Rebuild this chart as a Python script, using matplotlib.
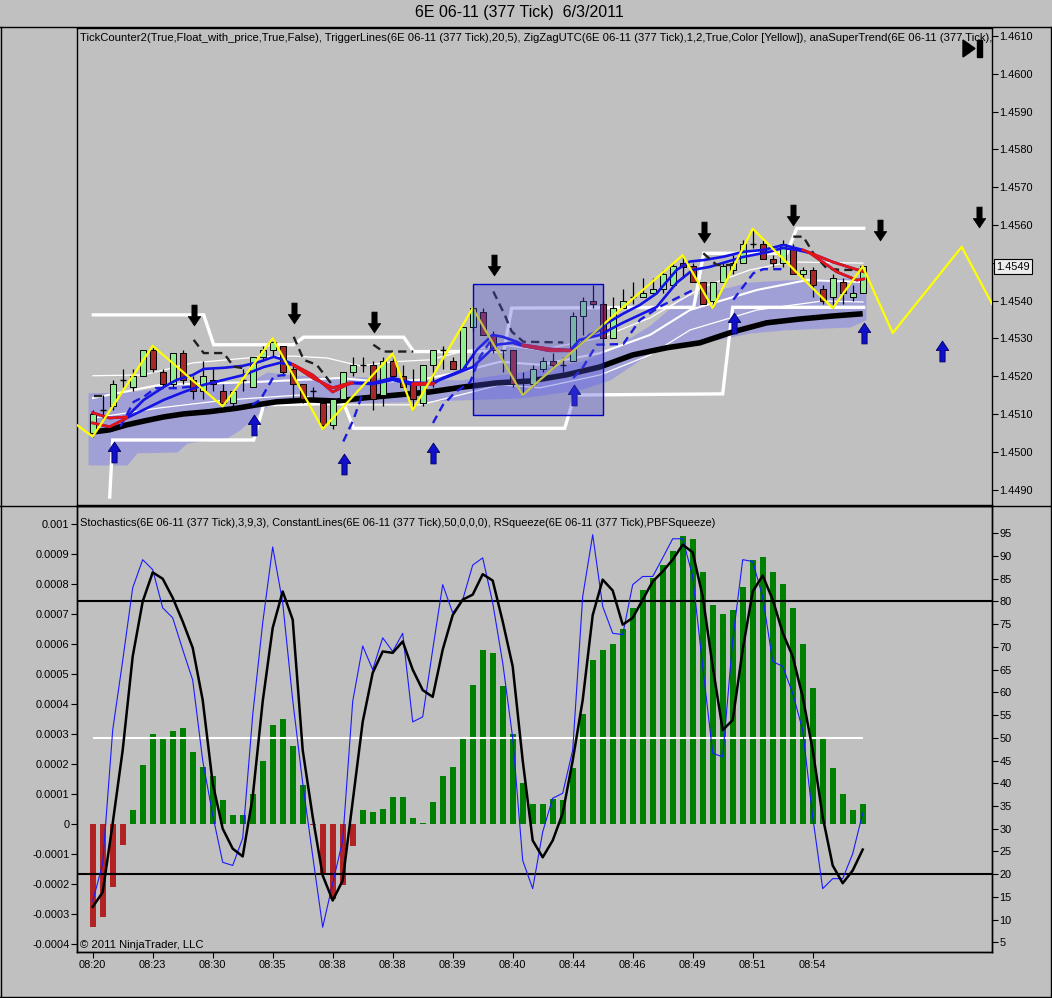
import numpy as np
import matplotlib
matplotlib.use('Agg')
import matplotlib.pyplot as plt
import matplotlib.transforms as mtransforms
from matplotlib.path import Path
from matplotlib.lines import Line2D
from matplotlib.patches import Rectangle, Polygon

plt.rcParams['font.family'] = ['Liberation Sans', 'DejaVu Sans']

BG = '#c0c0c0'

# ---- 377 tick bars, 6E 06-11 ----
opens = [1.4505, 1.4511, 1.4512, 1.4519, 1.4517, 1.4520, 1.4527, 1.4521, 1.4518, 1.4526,
         1.4519, 1.4516, 1.4519, 1.4516, 1.4513, 1.4519, 1.4517, 1.4525, 1.4527, 1.4528,
         1.4522, 1.4518, 1.4516, 1.4513, 1.4507, 1.4514, 1.4521, 1.4523, 1.4523, 1.4515,
         1.4524, 1.4520, 1.4518, 1.4513, 1.4523, 1.4527, 1.4524, 1.4522, 1.4533, 1.4537,
         1.4531, 1.4527, 1.4527, 1.4519, 1.4518, 1.4522, 1.4524, 1.4523, 1.4524, 1.4536,
         1.4540, 1.4539, 1.4530, 1.4538, 1.4541, 1.4541, 1.4542, 1.4543, 1.4544, 1.4550,
         1.4549, 1.4545, 1.4540, 1.4545, 1.4548, 1.4550, 1.4555, 1.4555, 1.4551, 1.4550,
         1.4554, 1.4547, 1.4548, 1.4543, 1.4541, 1.4545, 1.4541, 1.4542]
highs = [1.4511, 1.4515, 1.4519, 1.4522, 1.4522, 1.4527, 1.4528, 1.4522, 1.4526, 1.4527,
         1.4520, 1.4524, 1.4522, 1.4518, 1.4516, 1.4522, 1.4525, 1.4528, 1.4530, 1.4528,
         1.4523, 1.4518, 1.4517, 1.4514, 1.4514, 1.4521, 1.4525, 1.4525, 1.4524, 1.4525,
         1.4526, 1.4523, 1.4522, 1.4523, 1.4527, 1.4528, 1.4525, 1.4533, 1.4538, 1.4538,
         1.4532, 1.4527, 1.4527, 1.4521, 1.4523, 1.4525, 1.4526, 1.4525, 1.4537, 1.4541,
         1.4544, 1.4540, 1.4541, 1.4543, 1.4545, 1.4546, 1.4546, 1.4548, 1.4550, 1.4552,
         1.4550, 1.4545, 1.4545, 1.4550, 1.4552, 1.4556, 1.4559, 1.4556, 1.4552, 1.4556,
         1.4555, 1.4549, 1.4549, 1.4544, 1.4547, 1.4546, 1.4544, 1.4549]
lows = [1.4504, 1.4508, 1.4511, 1.4517, 1.4516, 1.4520, 1.4521, 1.4517, 1.4517, 1.4518,
        1.4514, 1.4514, 1.4516, 1.4512, 1.4512, 1.4516, 1.4517, 1.4524, 1.4525, 1.4520,
        1.4514, 1.4513, 1.4514, 1.4506, 1.4506, 1.4514, 1.4520, 1.4521, 1.4511, 1.4512,
        1.4519, 1.4517, 1.4511, 1.4512, 1.4517, 1.4522, 1.4522, 1.4522, 1.4532, 1.4531,
        1.4526, 1.4521, 1.4517, 1.4515, 1.4517, 1.4521, 1.4522, 1.4521, 1.4524, 1.4531,
        1.4538, 1.4530, 1.4530, 1.4538, 1.4539, 1.4541, 1.4542, 1.4542, 1.4544, 1.4546,
        1.4545, 1.4539, 1.4538, 1.4545, 1.4547, 1.4550, 1.4554, 1.4551, 1.4549, 1.4549,
        1.4547, 1.4546, 1.4541, 1.4539, 1.4538, 1.4539, 1.4540, 1.4542]
closes = [1.4510, 1.4511, 1.4518, 1.4519, 1.4520, 1.4527, 1.4522, 1.4518, 1.4526, 1.4519,
          1.4516, 1.4520, 1.4518, 1.4513, 1.4516, 1.4519, 1.4525, 1.4527, 1.4529, 1.4521,
          1.4518, 1.4514, 1.4516, 1.4507, 1.4514, 1.4521, 1.4523, 1.4523, 1.4514, 1.4524,
          1.4520, 1.4517, 1.4514, 1.4523, 1.4527, 1.4527, 1.4522, 1.4533, 1.4538, 1.4531,
          1.4527, 1.4527, 1.4518, 1.4519, 1.4522, 1.4524, 1.4523, 1.4523, 1.4536, 1.4540,
          1.4539, 1.4530, 1.4538, 1.4540, 1.4541, 1.4542, 1.4543, 1.4547, 1.4549, 1.4549,
          1.4545, 1.4539, 1.4545, 1.4549, 1.4550, 1.4555, 1.4555, 1.4551, 1.4550, 1.4555,
          1.4547, 1.4548, 1.4544, 1.4540, 1.4546, 1.4542, 1.4542, 1.4549]
last_price = 1.4549

# ---- moving averages (fast / slow), read at points ----
fast_x = [0, 1.7, 3.4, 5.1, 7.1, 8.4, 10.0, 11.1, 13.1, 15.0, 16.7, 18.1, 19.1, 20.1, 22.0,
          24.0, 25.4, 26.0, 28.0, 30.0, 32.0, 34.0, 35.0, 37.0, 38.4, 40.0, 41.0, 42.4, 43.0,
          45.7, 47.7, 48.7, 49.7, 50.7, 51.4, 53.1, 54.7, 56.4, 58.4, 59.7, 61.1, 63.1, 65.1,
          67.1, 69.1, 70.4, 71.0, 74.0, 77.1]
fast_y = [1.45103, 1.45089, 1.45092, 1.45137, 1.45171, 1.45190, 1.45203, 1.45219, 1.45222,
          1.45227, 1.45238, 1.45251, 1.45243, 1.45230, 1.45203, 1.45158, 1.45177, 1.45182,
          1.45182, 1.45195, 1.45182, 1.45182, 1.45195, 1.45216, 1.45269, 1.45309, 1.45304,
          1.45291, 1.45283, 1.45272, 1.45269, 1.45283, 1.45309, 1.45322, 1.45340, 1.45366,
          1.45388, 1.45419, 1.45481, 1.45503, 1.45507, 1.45516, 1.45529, 1.45534, 1.45547,
          1.45538, 1.45534, 1.45502, 1.45476]
slow_x = [0, 1.7, 3.4, 5.1, 7.1, 9.1, 11.1, 13.1, 15.1, 17.1, 18.7, 20.0, 22.0, 24.0, 25.7,
          28.0, 30.0, 32.0, 34.0, 34.7, 38.0, 40.4, 42.0, 43.0, 45.7, 47.7, 48.7, 50.7, 53.0,
          56.4, 58.4, 60.0, 61.7, 65.0, 67.7, 69.0, 70.4, 71.7, 74.4, 76.4, 77.1]
slow_y = [1.45076, 1.45066, 1.45089, 1.45111, 1.45137, 1.45158, 1.45177, 1.45190, 1.45203,
          1.45224, 1.45235, 1.45230, 1.45195, 1.45169, 1.45182, 1.45179, 1.45190, 1.45177,
          1.45179, 1.45190, 1.45224, 1.45283, 1.45288, 1.45280, 1.45267, 1.45267, 1.45296,
          1.45309, 1.45341, 1.45383, 1.45447, 1.45481, 1.45489, 1.45515, 1.45529, 1.45539,
          1.45534, 1.45526, 1.45476, 1.45454, 1.45457]
falling_ranges = [(0, 3.5), (19.9, 26.1), (31.9, 34.1), (42.9, 47.8), (70.9, 77.2)]

long_x = [0, 1.7, 3.4, 5.1, 7.1, 9.1, 11.7, 14.4, 16.4, 18.4, 21.7, 24.4, 27.0, 30.4, 33.7,
          37.0, 40.4, 43.7, 47.3, 50.7, 54.0, 57.4, 60.7, 64.0, 67.4, 70.7, 74.0, 77.0]
long_y = [1.45052, 1.45058, 1.45071, 1.45081, 1.45092, 1.45100, 1.45106, 1.45115, 1.45124,
          1.45132, 1.45137, 1.45134, 1.45142, 1.45150, 1.45158, 1.45171, 1.45182, 1.45187,
          1.45203, 1.45224, 1.45256, 1.45275, 1.45288, 1.45317, 1.45341, 1.45351, 1.45359,
          1.45365]

# ---- thin / medium white bands ----
band_up_x = [0.03, 5.03, 10.03, 16.73, 20.03, 23.43, 26.73, 30.03, 33.73, 36.73, 40.73, 44.73,
             50.73, 55.73, 61.03, 65.73, 69.73, 77.03]
band_up_y = [1.45201, 1.45203, 1.45235, 1.45251, 1.45253, 1.45248, 1.45227, 1.45238, 1.45243,
             1.45264, 1.45283, 1.45269, 1.45301, 1.45354, 1.45436, 1.45481, 1.45502, 1.45499]
band_mid_x = [0.03, 6.73, 13.43, 16.73, 20.73, 24.73, 28.73, 32.73, 36.73, 40.73, 44.73, 50.73,
              55.73, 59.73, 66.43, 71.43, 77.03]
band_mid_y = [1.45142, 1.45177, 1.45182, 1.45185, 1.45190, 1.45195, 1.45185, 1.45190, 1.45211,
              1.45238, 1.45230, 1.45261, 1.45309, 1.45375, 1.45428, 1.45454, 1.45449]
band_lo_x = [0.03, 6.73, 13.43, 20.73, 24.73, 32.73, 36.73, 40.73, 44.73, 50.73, 55.73, 59.73,
             66.43, 73.03, 77.03]
band_lo_y = [1.45089, 1.45116, 1.45137, 1.45150, 1.45124, 1.45124, 1.45150, 1.45177, 1.45169,
             1.45203, 1.45256, 1.45322, 1.45375, 1.45399, 1.45396]

# ---- shaded cloud ----
cloud_x = [-0.47, 3.43, 4.43, 8.43, 9.43, 13.43, 14.73, 16.03, 17.43, 20.03, 24.03, 26.73,
           30.73, 36.73, 42.73, 48.73, 51.73, 55.73, 59.03, 62.43, 65.73, 69.03, 75.73, 77.33]
cloud_top = [1.45156, 1.45158, 1.45161, 1.45177, 1.45182, 1.45185, 1.45187, 1.45190, 1.45211,
             1.45203, 1.45198, 1.45198, 1.45195, 1.45190, 1.45211, 1.45238, 1.45269, 1.45335,
             1.45410, 1.45428, 1.45449, 1.45454, 1.45460, 1.45460]
cloud_bot = [1.44965, 1.44965, 1.44997, 1.44999, 1.45023, 1.45037, 1.45058, 1.45089, 1.45119,
             1.45132, 1.45132, 1.45129, 1.45132, 1.45137, 1.45142, 1.45164, 1.45190, 1.45261,
             1.45283, 1.45296, 1.45314, 1.45322, 1.45330, 1.45349]

# ---- TriggerLines (thick white steps) ----
trig_hi_x = [0.06, 11.1, 12.1, 20.1, 21.1, 31.1, 32.1, 41.1, 41.9, 60.1, 61.1, 69.4, 70.4, 77.1]
trig_hi_y = [1.45362, 1.45362, 1.45283, 1.45283, 1.45303, 1.45303, 1.45265, 1.45265, 1.45380,
             1.45382, 1.45525, 1.45525, 1.45591, 1.45591]
trig_lo_x = [1.7, 2.0, 16.1, 17.1, 25.1, 26.1, 47.2, 48.2, 63.0, 64.0, 77.1]
trig_lo_y = [1.44880, 1.45031, 1.45031, 1.45124, 1.45128, 1.45062, 1.45062, 1.45150, 1.45153,
             1.45382, 1.45382]

# ---- anaSuperTrend (dashed) ----
st_down = [
    ([0.1, 1.1], [1.45148, 1.45148]),
    ([10.1, 11.1, 13.1, 14.1, 15.1], [1.45296, 1.45261, 1.45261, 1.45225, 1.45221]),
    ([20.1, 21.1, 22.4, 24.1], [1.45304, 1.45243, 1.45230, 1.45172]),
    ([28.06, 29.06, 32.06], [1.45283, 1.45265, 1.45265]),
    ([40.06, 41.2, 41.9, 43.06, 47.06], [1.45424, 1.45362, 1.45318, 1.45291, 1.45289]),
    ([61.06, 62.4, 64.06], [1.45525, 1.45494, 1.45494]),
    ([70.06, 71.06, 72.06, 73.4, 74.73, 77.06], [1.45569, 1.45569, 1.45525, 1.45485, 1.45481, 1.45481]),
]
st_up = [
    ([2.76, 4.1, 5.1, 6.26, 8.43, 9.73], [1.45066, 1.45132, 1.45145, 1.45168, 1.45168, 1.45172]),
    ([15.93, 16.76, 18.1, 19.1, 20.03], [1.45124, 1.45137, 1.45199, 1.45203, 1.45203]),
    ([25.06, 26.06, 27.06], [1.45027, 1.45084, 1.45159]),
    ([34.03, 35.03, 36.33, 37.73, 38.73, 39.73], [1.45076, 1.45124, 1.45159, 1.45183, 1.45251, 1.45291]),
    ([48.06, 49.06, 50.4, 53.06, 54.73, 56.73, 59.06, 60.06],
     [1.45195, 1.45225, 1.45283, 1.45285, 1.45349, 1.45384, 1.45415, 1.45428]),
    ([64.06, 65.06, 66.06, 67.06, 69.06], [1.45402, 1.45437, 1.45472, 1.45483, 1.45483]),
]

# ---- ZigZag swings (with projection) ----
zz_x = [-1.6, 0, 6, 13, 18, 23, 30, 32, 38, 43, 59, 62, 66, 74, 77, 80, 86.9, 90]
zz_y = [1.45071, 1.4504, 1.4528, 1.4512, 1.4530, 1.4506, 1.4526, 1.4511, 1.4538, 1.4515,
        1.4552, 1.4538, 1.4559, 1.4538, 1.4549, 1.45314, 1.45542, 1.45388]

# ---- signal arrows ----
down_arrow_x = [10.1, 20.1, 28.1, 40.1, 61.1, 70.0, 78.7, 88.6]
down_arrow_y = [1.45362, 1.45367, 1.45343, 1.45494, 1.45581, 1.45626, 1.45587, 1.45621]
up_arrow_x = [2.1, 16.1, 25.1, 34.0, 48.1, 64.1, 77.1, 84.9]
up_arrow_y = [1.45000, 1.45071, 1.44968, 1.44997, 1.45150, 1.45341, 1.45314, 1.45267]

# drawn box (bars / prices)
box_x0, box_x1 = 38.03, 51.03
box_y0, box_y1 = 1.45097, 1.45444

price_ticks = [1.4490, 1.4500, 1.4510, 1.4520, 1.4530, 1.4540, 1.4550, 1.4560, 1.4570,
               1.4580, 1.4590, 1.4600, 1.4610]

# ---- lower panel ----
squeeze = [-3.44, -3.1, -2.1, -0.7, 0.45, 1.95, 3.0, 2.9, 3.1, 3.2,
           2.4, 1.9, 1.6, 0.8, 0.3, 0.3, 1.0, 2.1, 3.3, 3.5,
           2.6, 1.3, -0.05, -1.65, -2.5, -2.05, -0.75, 0.47, 0.38, 0.48,
           0.88, 0.88, 0.2, 0.03, 0.72, 1.6, 1.9, 2.85, 4.65, 5.8,
           5.7, 4.6, 3.0, 1.35, 0.65, 0.65, 0.84, 0.8, 1.85, 3.65,
           5.48, 5.8, 6.0, 6.5, 7.2, 7.8, 8.2, 8.65, 9.1, 9.6,
           9.5, 8.4, 7.3, 7.0, 7.15, 7.9, 8.8, 8.9, 8.4, 8.0,
           7.2, 6.0, 4.55, 2.9, 1.85, 1.0, 0.45, 0.65]   # x 0.0001
stoch_k = [14, 22.3, 51.7, 67, 83, 89.2, 87, 78.6, 76.4, 69.4,
           62.7, 45, 33, 22.6, 21.9, 27.9, 55, 75.3, 92, 79.7,
           58.3, 40, 24, 8.3, 18, 27.4, 58, 70.2, 65, 72,
           69, 73, 53.5, 54.6, 69.4, 83.7, 77.5, 80.4, 88, 89.6,
           79.7, 66.5, 50, 23, 16.8, 29.3, 36.7, 37.8, 47.3, 81.1,
           94.7, 78.9, 73, 72.7, 83.7, 85.5, 85.5, 89.6, 93.8, 93.8,
           85.5, 65.7, 46.6, 45.8, 71.5, 89.2, 88.8, 81, 66.8, 65.7,
           59.8, 51.7, 32.6, 16.8, 19, 19, 24.5, 33.4]
stoch_d = [12.8, 16, 31.2, 47.3, 67.9, 80, 86.4, 85, 80.8, 75.6,
           69.8, 58.3, 40, 30, 25.6, 23.9, 37, 58, 74.2, 82.2,
           76, 47.3, 32.6, 19.7, 14.2, 18.6, 36, 53.5, 64.3, 69,
           68.7, 71.2, 65, 60.5, 59, 69.4, 77, 80.4, 81.5, 86,
           84.6, 75.6, 65.7, 45, 27.4, 23.7, 27.4, 33.4, 45, 58.3,
           77, 84.8, 82.4, 74.9, 76.4, 80.4, 84.4, 86.6, 89.2, 92.5,
           90.8, 81.1, 65.7, 51.7, 53.9, 69.4, 82.2, 85.7, 80.4, 73.1,
           67.9, 59, 47.3, 32.6, 21.9, 18, 20.8, 25.4]
stoch_levels = [80, 20]
mid_level = 50
squeeze_ticks = [-4, -3, -2, -1, 0, 1, 2, 3, 4, 5, 6, 7, 8, 9, 10]
squeeze_labels = ['-0.0004', '-0.0003', '-0.0002', '-0.0001', '0', '0.0001', '0.0002',
                  '0.0003', '0.0004', '0.0005', '0.0006', '0.0007', '0.0008', '0.0009', '0.001']
stoch_ticks = [5, 10, 15, 20, 25, 30, 35, 40, 45, 50, 55, 60, 65, 70, 75, 80, 85, 90, 95]
time_labels = ['08:20', '08:23', '08:30', '08:35', '08:38', '08:38', '08:39', '08:40',
               '08:44', '08:46', '08:49', '08:51', '08:54']

n = len(closes)
xs = np.arange(n)
XLIM = (-1.57, 89.93)
TICK_FS = 7.9

fig = plt.figure(figsize=(10.52, 9.98), dpi=100, facecolor=BG)
ax = fig.add_axes([77 / 1052, 1 - 505 / 998, 915 / 1052, 477 / 998])
axb = fig.add_axes([77 / 1052, 1 - 952 / 998, 915 / 1052, 446 / 998])

# ================= price panel =================
ax.set_facecolor(BG)
ax.set_xlim(*XLIM)
ax.set_ylim(1.44859, 1.46121)

ax.fill_between(cloud_x, cloud_bot, cloud_top, color=(0.55, 0.55, 0.9), alpha=0.6,
                lw=0, zorder=1)

ax.plot(band_up_x, band_up_y, color='white', lw=0.9, zorder=2)
ax.plot(band_lo_x, band_lo_y, color='white', lw=0.9, zorder=2)
ax.plot(band_mid_x, band_mid_y, color='white', lw=1.5, zorder=2)
ax.plot(trig_hi_x, trig_hi_y, color='white', lw=2.4, zorder=2.2, solid_joinstyle='miter')
ax.plot(trig_lo_x, trig_lo_y, color='white', lw=2.4, zorder=2.2, solid_joinstyle='miter')
ax.plot(long_x, long_y, color='black', lw=4.0, zorder=3, solid_capstyle='butt')

# candles
o = np.array(opens)
c = np.array(closes)
ax.vlines(xs, lows, highs, color='black', lw=0.9, zorder=4)
up = c > o
dn = c < o
flat = c == o
ax.bar(xs[up], (c - o)[up], bottom=o[up], width=0.62, color='#90ee90',
       edgecolor='black', lw=0.7, zorder=4.2)
ax.bar(xs[dn], (o - c)[dn], bottom=c[dn], width=0.62, color='#a8282a',
       edgecolor='black', lw=0.7, zorder=4.2)
ax.hlines(o[flat], xs[flat] - 0.31, xs[flat] + 0.31, color='black', lw=1.0, zorder=4.2)

# fast / slow averages, red where falling
for mx, my in ((fast_x, fast_y), (slow_x, slow_y)):
    mx = np.array(mx)
    my = np.array(my)
    ax.plot(mx, my, color='#1414e6', lw=1.9, zorder=5)
    for a, b in falling_ranges:
        m = (mx >= a) & (mx <= b)
        ax.plot(mx[m], my[m], color='#e61414', lw=1.9, zorder=5.2)

for sx, sy in st_down:
    ax.plot(sx, sy, color='#202020', lw=1.7, ls=(0, (3.5, 2.2)), zorder=5.1)
for sx, sy in st_up:
    ax.plot(sx, sy, color='#1c1ce0', lw=1.7, ls=(0, (3.5, 2.2)), zorder=5.1)

ax.plot(zz_x, zz_y, color='#ffff00', lw=1.6, zorder=6)

down_v = [(-0.25, 1), (0.25, 1), (0.25, -0.1), (0.6, -0.1), (0, -1), (-0.6, -0.1),
          (-0.25, -0.1), (-0.25, 1)]
codes = [Path.MOVETO] + [Path.LINETO] * 6 + [Path.CLOSEPOLY]
down_marker = Path(down_v, codes)
up_marker = Path([(x, -y) for x, y in down_v], codes)
ax.plot(down_arrow_x, down_arrow_y, ls='none', marker=down_marker, ms=15,
        mfc='black', mec='black', mew=0.5, zorder=7)
ax.plot(up_arrow_x, up_arrow_y, ls='none', marker=up_marker, ms=15,
        mfc='#1010cc', mec='#00005a', mew=0.6, zorder=7)

ax.add_patch(Rectangle((box_x0, box_y0), box_x1 - box_x0, box_y1 - box_y0,
                       facecolor=(0.3, 0.3, 0.85), alpha=0.35, edgecolor='none', zorder=8))
ax.add_patch(Rectangle((box_x0, box_y0), box_x1 - box_x0, box_y1 - box_y0,
                       facecolor='none', edgecolor='#0000cc', lw=1.0, zorder=8.1))

ax.yaxis.tick_right()
ax.set_yticks(price_ticks)
# the last-price marker sits on top of the 1.4550 label, as in the platform
ax.set_yticklabels(['' if abs(v - last_price) < 0.0002 else f'{v:.4f}' for v in price_ticks])
ax.set_xticks([])
ax.tick_params(axis='y', labelsize=TICK_FS, length=4, width=0.8, pad=1.5, colors='black')
for s in ax.spines.values():
    s.set_color('black')
    s.set_linewidth(1.0)

ax.text(0.003, 0.979, 'TickCounter2(True,Float_with_price,True,False), '
        'TriggerLines(6E 06-11 (377 Tick),20,5), ZigZagUTC(6E 06-11 (377 Tick),1,2,True,'
        'Color [Yellow]), anaSuperTrend(6E 06-11 (377 Tick),', transform=ax.transAxes,
        fontsize=8.1, va='center', ha='left', clip_on=True, zorder=9)

# go-to-end button
ax.add_patch(Polygon([(0.9683, 0.9748), (0.9683, 0.9392), (0.9814, 0.957)], closed=True,
                     transform=ax.transAxes, color='black', zorder=10))
ax.add_patch(Rectangle((0.9836, 0.9392), 0.0055, 0.0356, transform=ax.transAxes,
                       color='black', zorder=10))

trans = mtransforms.blended_transform_factory(ax.transAxes, ax.transData)
ax.text(1.0 + 4 / 915, last_price, f'{last_price:.4f}', transform=trans, fontsize=TICK_FS,
        va='center', ha='left', clip_on=False, zorder=12,
        bbox=dict(boxstyle='square,pad=0.2', fc='#ececec', ec='black', lw=0.8))

# ================= lower panel =================
axb.set_facecolor(BG)
axb.set_xlim(*XLIM)
axb.set_ylim(-0.00042805, 0.0010611)
sq = np.array(squeeze) * 1e-4
axb.bar(xs, sq, width=0.62, color=np.where(sq >= 0, '#008000', '#b22222'), lw=0, zorder=2)
axb.set_yticks(np.array(squeeze_ticks) * 1e-4)
axb.set_yticklabels(squeeze_labels)
axb.set_xticks(xs[::6])
axb.set_xticklabels(time_labels)
axb.tick_params(axis='both', labelsize=TICK_FS, length=4, width=0.8, pad=1.5, colors='black')
for s in axb.spines.values():
    s.set_color('black')
    s.set_linewidth(1.0)

axs = axb.twinx()
axs.set_ylim(2.86, 101.01)
axs.set_xlim(*XLIM)
for lv in stoch_levels:
    axs.axhline(lv, color='black', lw=1.5, zorder=3)
axs.hlines(mid_level, 0, n - 1, color='white', lw=1.5, zorder=3)
axs.plot(xs, stoch_k, color='#1a1aff', lw=0.8, zorder=4)
axs.plot(xs, stoch_d, color='black', lw=1.8, zorder=5)
axs.set_yticks(stoch_ticks)
axs.set_yticklabels([str(v) for v in stoch_ticks])
axs.tick_params(axis='y', labelsize=TICK_FS, length=4, width=0.8, pad=1.5, colors='black')
for s in axs.spines.values():
    s.set_color('black')
    s.set_linewidth(1.0)

axs.text(0.003, 0.962, 'Stochastics(6E 06-11 (377 Tick),3,9,3), ConstantLines(6E 06-11 '
         '(377 Tick),50,0,0,0), RSqueeze(6E 06-11 (377 Tick),PBFSqueeze)',
         transform=axs.transAxes, fontsize=7.95, va='center', ha='left', zorder=9)
axs.text(0.003, 0.0157, '\u00a9 2011 NinjaTrader, LLC', transform=axs.transAxes,
         fontsize=8.1, va='center', ha='left', zorder=9)

# ================= frame / title =================
for y in (1 - 27 / 998, 1 - 505.5 / 998, 0.0008):
    fig.add_artist(Line2D([0, 1], [y, y], transform=fig.transFigure, color='black', lw=1.0))
for x in (0.0005, 0.9993):
    fig.add_artist(Line2D([x, x], [0.0008, 1 - 27 / 998], transform=fig.transFigure,
                          color='black', lw=1.0))
fig.text(519 / 1052, 1 - 13 / 998, '6E 06-11 (377 Tick)  6/3/2011', ha='center',
         va='center', fontsize=11.5)

fig.savefig('out.png', dpi=100, facecolor=BG)
